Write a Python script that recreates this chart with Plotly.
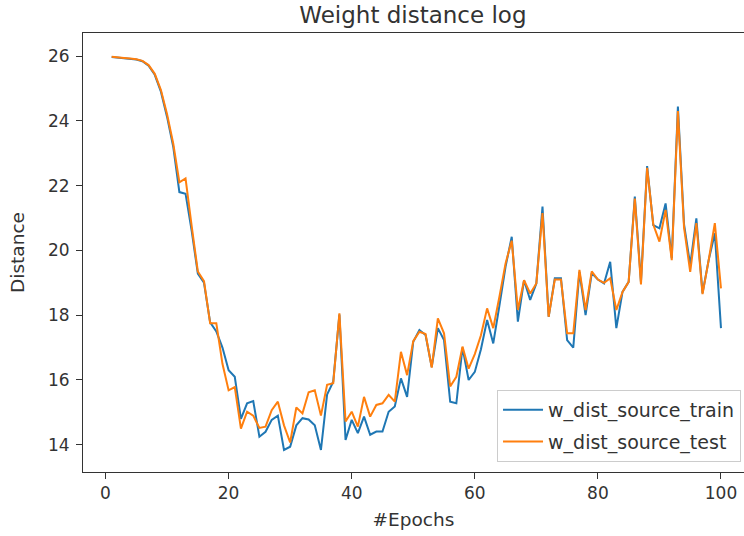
import plotly.graph_objects as go

epochs = list(range(1, 101))

w_dist_source_train = [
    25.97, 25.95, 25.93, 25.92, 25.89, 25.84, 25.70, 25.42, 24.90, 24.12,
    23.20, 21.80, 21.75, 20.60, 19.28, 19.00, 17.78, 17.50, 17.00, 16.30,
    16.10, 14.80, 15.28, 15.35, 14.25, 14.40, 14.77, 14.90, 13.84, 13.94,
    14.60, 14.82, 14.78, 14.60, 13.84, 15.55, 15.95, 18.02, 14.15, 14.77,
    14.36, 14.87, 14.31, 14.41, 14.41, 15.02, 15.18, 16.05, 15.48, 17.18,
    17.54, 17.39, 16.40, 17.60, 17.23, 15.33, 15.28, 17.00, 16.00, 16.25,
    16.95, 17.85, 17.13, 18.30, 19.50, 20.42, 17.80, 19.08, 18.47, 18.98,
    21.35, 17.95, 19.14, 19.14, 17.23, 17.00, 19.34, 18.00, 19.30, 19.10,
    18.98, 19.65, 17.60, 18.72, 19.03, 21.66, 19.03, 22.60, 20.78, 20.68,
    21.45, 19.76, 24.44, 20.80, 19.55, 20.99, 18.68, 19.70, 20.53, 17.60,
]

w_dist_source_test = [
    25.98, 25.95, 25.94, 25.92, 25.90, 25.85, 25.72, 25.45, 24.95, 24.20,
    23.30, 22.10, 22.22, 20.75, 19.35, 19.05, 17.75, 17.75, 16.50, 15.68,
    15.78, 14.50, 15.02, 14.90, 14.52, 14.56, 15.07, 15.33, 14.60, 14.07,
    15.15, 14.97, 15.62, 15.68, 14.90, 15.85, 15.90, 18.06, 14.72, 15.02,
    14.56, 15.48, 14.87, 15.23, 15.28, 15.54, 15.33, 16.87, 16.15, 17.20,
    17.49, 17.42, 16.38, 17.90, 17.44, 15.80, 16.10, 17.03, 16.35, 16.80,
    17.38, 18.21, 17.60, 18.57, 19.60, 20.30, 18.16, 19.08, 18.67, 18.98,
    21.15, 17.95, 19.10, 19.10, 17.44, 17.44, 19.40, 18.16, 19.35, 19.10,
    19.00, 19.14, 18.16, 18.72, 19.03, 21.60, 18.95, 22.55, 20.80, 20.27,
    21.25, 19.70, 24.30, 20.70, 19.34, 20.84, 18.65, 19.70, 20.84, 18.83,
]

x_ticks = [0, 20, 40, 60, 80, 100]
y_ticks = [14, 16, 18, 20, 22, 24, 26]

fig = go.Figure()
fig.add_trace(go.Scatter(x=epochs, y=w_dist_source_train, mode="lines",
                         name="w_dist_source_train", legendgroup="train",
                         line=dict(color="#1f77b4", width=2)))
fig.add_trace(go.Scatter(x=epochs, y=w_dist_source_test, mode="lines",
                         name="w_dist_source_test", legendgroup="test",
                         line=dict(color="#ff7f0e", width=2)))

tick_font = dict(family="DejaVu Sans", size=17, color="#333333")
label_font = dict(family="DejaVu Sans", size=18.5, color="#333333")

fig.update_layout(
    width=744, height=536,
    margin=dict(l=83, r=0, t=33, b=64),
    paper_bgcolor="white", plot_bgcolor="white",
    font=dict(family="DejaVu Sans", size=17, color="#333333"),
    title=dict(text="Weight distance log", x=0.555, xanchor="center",
               y=0.972, yanchor="middle",
               font=dict(family="DejaVu Sans", size=23, color="#333333")),
    xaxis=dict(range=[-3.66, 103.74], tickvals=x_ticks, ticks="outside",
               ticklen=6, tickcolor="#333333", showgrid=False, zeroline=False,
               showline=True, linecolor="#333333", linewidth=1, mirror=True,
               tickfont=tick_font,
               title=dict(text="#Epochs", font=label_font, standoff=10)),
    yaxis=dict(range=[13.16, 26.71], tickvals=y_ticks, ticks="outside",
               ticklen=6, tickcolor="#333333", showgrid=False, zeroline=False,
               showline=True, linecolor="#333333", linewidth=1, mirror=False,
               tickfont=tick_font, ticklabelstandoff=3,
               title=dict(text="Distance", font=label_font, standoff=18)),
    legend=dict(x=0.9955, y=0.023, xanchor="right", yanchor="bottom",
                bgcolor="white", bordercolor="#cccccc", borderwidth=1,
                tracegroupgap=4, traceorder="grouped", itemwidth=40,
                font=dict(family="DejaVu Sans", size=19, color="#333333")),
    showlegend=True,
)

fig.write_html(
    "out.html",
    config={"displayModeBar": False},
    post_script="document.body.style.margin='0';document.body.style.overflow='hidden';",
)
